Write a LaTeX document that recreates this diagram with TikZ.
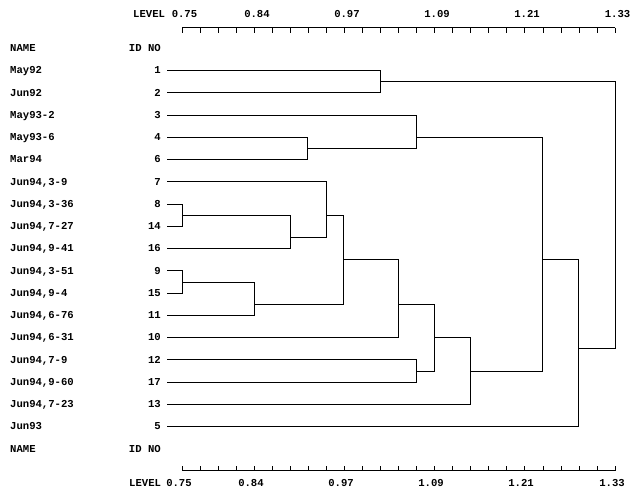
\documentclass[tikz,border=0pt]{standalone}
\usepackage{fontspec}
\setmonofont{Liberation Mono}
\begin{document}
\begin{tikzpicture}[x=1pt,y=-1pt,
  lbl/.style={font=\ttfamily\bfseries\fontsize{10.6}{12}\selectfont, inner sep=0pt, text height=6.6pt, text depth=0pt},
  branch/.style={line width=0.75pt, line cap=rect},
  axisline/.style={line width=0.75pt},
  ]
\useasboundingbox (0,0) rectangle (638,495);
\fill[white] (0,0) rectangle (638,495);

% headers
\node[lbl, anchor=west] (nameT) at (10,48.25) {NAME};
\node[lbl, anchor=east] (idT) at (161,48.25) {ID NO};
\node[lbl, anchor=west] (nameB) at (10,448.75) {NAME};
\node[lbl, anchor=east] (idB) at (161,448.75) {ID NO};

% leaves
\foreach \nm/\id/\r in {May92/1/0, Jun92/2/1, May93-2/3/2, May93-6/4/3, Mar94/6/4,
  {Jun94,3-9}/7/5, {Jun94,3-36}/8/6, {Jun94,7-27}/14/7, {Jun94,9-41}/16/8,
  {Jun94,3-51}/9/9, {Jun94,9-4}/15/10, {Jun94,6-76}/11/11, {Jun94,6-31}/10/12,
  {Jun94,7-9}/12/13, {Jun94,9-60}/17/14, {Jun94,7-23}/13/15, Jun93/5/16} {
  \pgfmathsetmacro\yy{70.5+22.25*\r}
  \node[lbl, anchor=west] (name\id) at (10,\yy) {\nm};
  \node[lbl, anchor=east] (id\id) at (161,\yy) {\id};
  \coordinate (l\id) at (167,\yy);
}

% cluster join points
\coordinate (c12) at (380.3,81.625);
\coordinate (c46) at (307.5,148.375);
\coordinate (c346) at (416,137.25);
\coordinate (c814) at (182.3,215.125);
\coordinate (c81416) at (290,237.375);
\coordinate (c7) at (326,215.125);
\coordinate (c915) at (182.3,281.875);
\coordinate (c91511) at (254.3,304.125);
\coordinate (cA) at (343.7,259.625);
\coordinate (cB) at (398.3,304.125);
\coordinate (c1217) at (416,370.875);
\coordinate (cC) at (434.3,337.5);
\coordinate (cD) at (470.3,370.875);
\coordinate (cE) at (542.3,259.625);
\coordinate (cF) at (578.7,348.625);
\coordinate (root) at (615,200);

\foreach \c/\a/\b in {c12/l1/l2, c46/l4/l6, c346/l3/c46, c814/l8/l14,
  c81416/c814/l16, c7/l7/c81416, c915/l9/l15, c91511/c915/l11,
  cA/c7/c91511, cB/cA/l10, c1217/l12/l17, cC/cB/c1217, cD/cC/l13,
  cE/c346/cD, cF/cE/l5, root/c12/cF}
  \draw[branch] (\a) -| (\c) (\b) -| (\c);

% top axis
\draw[axisline] (182.3,27.7) coordinate (ta0) -- (615,27.7) coordinate (ta1);
\foreach \i in {0,...,24}
  \draw[axisline] ({182.3+18.029*\i},27.7) -- ++(0,5);
\node[lbl, anchor=west] (levT) at (133,14.5) {LEVEL};
\foreach \v/\xx in {0.75/184.5, 0.84/257, 0.97/347, 1.09/437, 1.21/527, 1.33/617.5}
  \node[lbl] (t\v) at (\xx,14.5) {\v};

% bottom axis
\draw[axisline] (182.3,470.7) coordinate (ba0) -- (615,470.7) coordinate (ba1);
\foreach \i in {0,...,24}
  \draw[axisline] ({182.3+18.029*\i},470.7) -- ++(0,-4.5);
\node[lbl, anchor=west] (levB) at (129,483.5) {LEVEL};
\foreach \v/\xx in {0.75/179, 0.84/251, 0.97/341, 1.09/431, 1.21/521, 1.33/612}
  \node[lbl] (b\v) at (\xx,483.5) {\v};
\end{tikzpicture}
\end{document}
